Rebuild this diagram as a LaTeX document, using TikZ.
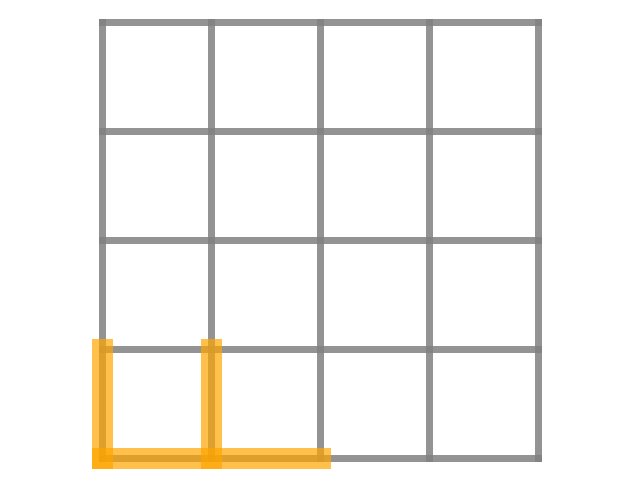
\documentclass[tikz,border=0pt]{standalone}
\usepackage{tikz}
\definecolor{pathorange}{RGB}{255,165,0}

\begin{document}
\begin{tikzpicture}[x=1cm, y=1cm, line cap=rect]
	\useasboundingbox (-0.940,-0.197) rectangle (4.931,4.206);
	
	% 网格
	\foreach \x in {0,1,2,3,4} \draw[gray, opacity=0.85, line width=1.83pt] (\x,0) -- (\x,4);
	\foreach \y in {0,1,2,3,4} \draw[gray, opacity=0.85, line width=1.83pt] (0,\y) -- (4,\y);
	
	% 高亮的边
	\draw[pathorange, opacity=0.7, line width=5.47pt] (0,0) -- (0,1);
	\draw[pathorange, opacity=0.7, line width=5.47pt] (1,0) -- (1,1);
	\draw[pathorange, opacity=0.7, line width=5.47pt] (0,0) -- (2,0);
\end{tikzpicture}
\end{document}
